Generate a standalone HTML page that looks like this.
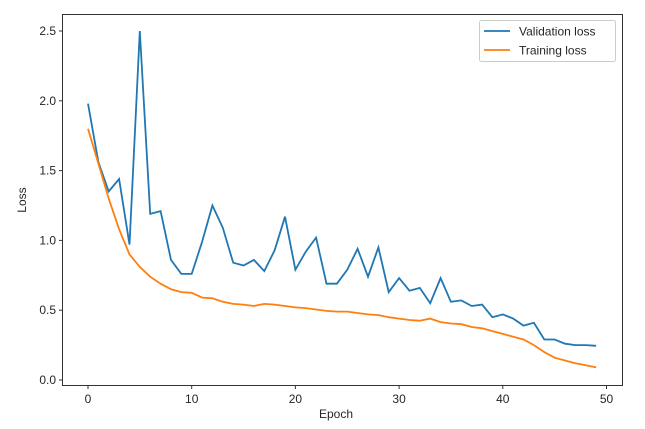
<!DOCTYPE html>
<html><head><meta charset="utf-8"><style>
body{margin:0;background:#fff;}
svg text{font-family:"Liberation Sans","DejaVu Sans",sans-serif;fill:#262626;}
</style></head><body>
<svg id="s" width="645" height="424" xmlns="http://www.w3.org/2000/svg">
<rect x="0" y="0" width="645" height="424" fill="#fff"/>
<g id="lines"></g>
<rect x="62.5" y="14.5" width="560" height="371" fill="none" stroke="#333" stroke-width="1"/>
<g font-size="12" text-anchor="end" id="yt"></g>
<g font-size="12" text-anchor="middle" id="xt"></g>
<text x="336" y="418" font-size="12" text-anchor="middle">Epoch</text>
<text x="26" y="200" font-size="12" text-anchor="middle" transform="rotate(-90 26 200)">Loss</text>
<rect x="479.5" y="20.5" width="136" height="41" rx="2" fill="#fff" stroke="#ccc"/>
<line x1="484" y1="31" x2="510" y2="31" stroke="#1f77b4" stroke-width="1.8"/>
<line x1="484" y1="50" x2="510" y2="50" stroke="#ff7f0e" stroke-width="1.8"/>
<text x="519" y="35.5" font-size="12">Validation loss</text>
<text x="519" y="54.5" font-size="12">Training loss</text>
</svg>
<script>
var v=[1.98,1.56,1.35,1.44,0.97,2.50,1.19,1.21,0.86,0.76,0.76,0.99,1.25,1.09,0.84,0.82,0.86,0.78,0.93,1.17,0.79,0.92,1.02,0.69,0.69,0.79,0.94,0.74,0.95,0.63,0.73,0.64,0.66,0.55,0.73,0.56,0.57,0.53,0.54,0.45,0.47,0.44,0.39,0.41,0.29,0.29,0.26,0.25,0.25,0.245];
var t=[1.80,1.55,1.30,1.08,0.90,0.81,0.74,0.69,0.65,0.63,0.625,0.59,0.585,0.56,0.545,0.54,0.53,0.545,0.54,0.53,0.52,0.515,0.505,0.495,0.49,0.49,0.48,0.47,0.465,0.45,0.44,0.43,0.425,0.44,0.415,0.405,0.40,0.38,0.37,0.35,0.33,0.31,0.29,0.25,0.20,0.16,0.14,0.12,0.105,0.09];
function X(e){return 88+10.37*e}function Y(y){return 380-139.6*y}
var ns="http://www.w3.org/2000/svg";
function pl(d,c){var p=document.createElementNS(ns,"polyline");p.setAttribute("points",d.map(function(y,i){return X(i).toFixed(1)+","+Y(y).toFixed(1)}).join(" "));p.setAttribute("fill","none");p.setAttribute("stroke",c);p.setAttribute("stroke-width","1.8");document.getElementById("lines").appendChild(p);}
pl(v,"#1f77b4");pl(t,"#ff7f0e");
var yt=document.getElementById("yt"),xt=document.getElementById("xt");
for(var i=0;i<=5;i++){var y=Y(i*0.5);var l=document.createElementNS(ns,"line");l.setAttribute("x1",59);l.setAttribute("x2",62.5);l.setAttribute("y1",y);l.setAttribute("y2",y);l.setAttribute("stroke","#333");yt.appendChild(l);var tx=document.createElementNS(ns,"text");tx.setAttribute("x",56);tx.setAttribute("y",y+4);tx.textContent=(i*0.5).toFixed(1);yt.appendChild(tx);}
for(var i=0;i<=5;i++){var x=X(i*10);var l=document.createElementNS(ns,"line");l.setAttribute("x1",x);l.setAttribute("x2",x);l.setAttribute("y1",385.5);l.setAttribute("y2",389);l.setAttribute("stroke","#333");xt.appendChild(l);var tx=document.createElementNS(ns,"text");tx.setAttribute("x",x);tx.setAttribute("y",403);tx.textContent=i*10;xt.appendChild(tx);}
</script>
</body></html>
